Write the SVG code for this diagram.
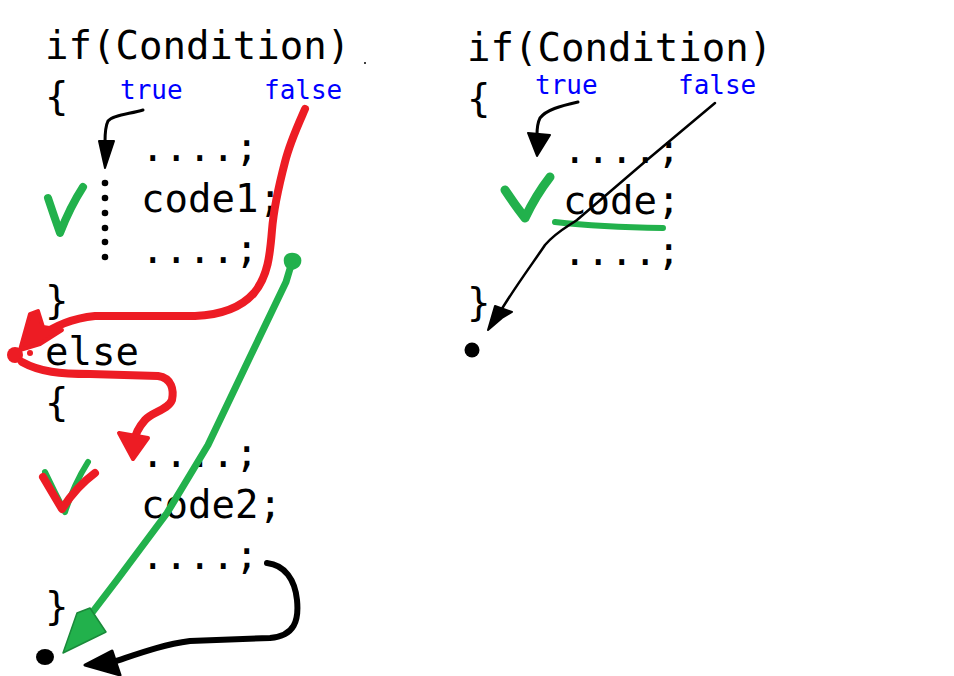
<svg xmlns="http://www.w3.org/2000/svg" width="954" height="676" viewBox="0 0 954 676">
  <style>
    .code { font-family: "DejaVu Sans Mono", "Liberation Mono", monospace; font-size: 39px; fill: #000; }
    .lbl { font-family: "DejaVu Sans Mono", "Liberation Mono", monospace; font-size: 26px; fill: #0000FF; }
    .ink { fill: none; stroke-linecap: round; stroke-linejoin: round; }
    .red { stroke: #ED1C24; stroke-width: 8; }
    .grn { stroke: #22B14C; }
    .blk { stroke: #000; }
  </style>
  <rect width="954" height="676" fill="#fff"/>

  <!-- if / else listing -->
  <g id="left-code" class="code">
    <text x="45" y="59">if(Condition)</text>
    <text x="45" y="110">{</text>
    <text x="141" y="161">....;</text>
    <text x="141" y="212">code1;</text>
    <text x="141" y="263">....;</text>
    <text x="45" y="314">}</text>
    <text x="45" y="365">else</text>
    <text x="45" y="416">{</text>
    <text x="141" y="467">....;</text>
    <text x="141" y="518">code2;</text>
    <text x="141" y="569">....;</text>
    <text x="45" y="620">}</text>
  </g>
  <g id="left-labels" class="lbl">
    <text x="120" y="99">true</text>
    <text x="264" y="99">false</text>
  </g>

  <!-- single if listing -->
  <g id="right-code" class="code">
    <text x="467" y="61">if(Condition)</text>
    <text x="467" y="112">{</text>
    <text x="563" y="163">....;</text>
    <text x="563" y="214">code;</text>
    <text x="563" y="265">....;</text>
    <text x="467" y="316">}</text>
  </g>
  <g id="right-labels" class="lbl">
    <text x="535" y="94">true</text>
    <text x="678" y="94">false</text>
  </g>

  <circle cx="365" cy="63" r="1" fill="#000"/>

  <g id="connectors">
    <!-- left: true path -->
    <g id="left-true">
      <path class="ink blk" stroke-width="3" d="M143,110 C130,114 113,115 108,121 C105,127 105,134 105,142"/>
      <polygon points="99,141 114,141 105,168" fill="#000" stroke="#000" stroke-width="2" stroke-linejoin="round"/>
      <g fill="#000">
        <circle cx="105" cy="183" r="3.3"/>
        <circle cx="105" cy="198" r="3.3"/>
        <circle cx="105" cy="213" r="3.3"/>
        <circle cx="105" cy="228" r="3.3"/>
        <circle cx="105" cy="242" r="3.3"/>
        <circle cx="105" cy="257" r="3.3"/>
      </g>
      <path class="ink grn" stroke-width="8" d="M48,198 Q54,216 60,233 Q70,207 83,187"/>
    </g>

    <!-- left: false path into else -->
    <g id="left-false">
      <path class="ink red" d="M305,109 C298,125 290,142 285,162 C279,185 274,205 272,230 C270,255 268,276 254,293 C240,309 220,315 195,316 L95,316 C75,318 55,325 38,338"/>
      <polygon points="20,350 30,314 38,311 43,327 62,330 40,344" fill="#ED1C24" stroke="#ED1C24" stroke-width="4" stroke-linejoin="round"/>
      <circle cx="15" cy="355" r="8" fill="#ED1C24"/>
      <circle cx="30" cy="353" r="3" fill="#ED1C24"/>
      <path class="ink red" d="M22,362 C40,372 60,374 90,374 L158,376 C172,378 174,390 172,400 C168,410 152,412 145,420 C138,428 135,435 134,442"/>
      <polygon points="119,433 148,438 133,459" fill="#ED1C24" stroke="#ED1C24" stroke-width="4" stroke-linejoin="round"/>
      <path class="ink grn" stroke-width="6" d="M45,472 Q55,493 65,512 Q74,484 88,462"/>
      <path class="ink red" stroke-width="6" d="M43,477 Q53,494 62,509 Q76,487 95,473"/>
    </g>

    <!-- left: exit from the if-block to after the statement -->
    <g id="left-skip">
      <path d="M284,258 C286,251 298,251 301,258 C303,266 296,270 290,270 C285,268 283,263 284,258 Z" fill="#22B14C"/>
      <path class="ink grn" stroke-width="7" d="M292,262 L286,282 L250,357 L208,445 L167,513 L117,580 L88,618"/>
      <polygon points="77,613 90,608 106,632 63,653" fill="#22B14C" stroke="#1a8a3a" stroke-width="1.5" stroke-linejoin="round"/>
    </g>

    <!-- left: exit from the else-block -->
    <g id="left-else-exit">
      <path class="ink blk" stroke-width="6" d="M267,563 C285,565 295,580 297,600 C299,620 295,636 270,638 L190,641 C160,645 135,655 110,663"/>
      <polygon points="85,665 112,651 120,675" fill="#000" stroke="#000" stroke-width="3" stroke-linejoin="round"/>
      <ellipse cx="45" cy="657" rx="9" ry="8" fill="#000"/>
    </g>

    <!-- right: true path -->
    <g id="right-true">
      <path class="ink blk" stroke-width="3" d="M578,102 C560,106 546,110 540,118 C537,124 537,130 537,135"/>
      <polygon points="528,133 550,135 537,156" fill="#000" stroke="#000" stroke-width="2" stroke-linejoin="round"/>
      <path class="ink grn" stroke-width="9" d="M505,190 Q515,205 525,218 Q536,195 550,177"/>
      <path class="ink grn" stroke-width="6" d="M555,222 Q600,227 663,228"/>
    </g>

    <!-- right: false path skipping the block -->
    <g id="right-false">
      <path class="ink blk" stroke-width="2.5" d="M715,103 L647,160 L577,220 C565,228 555,233 545,245 C535,260 520,280 503,307 L492,325"/>
      <polygon points="488,330 495,306 512,312 502,318" fill="#000" stroke="#000" stroke-width="2" stroke-linejoin="round"/>
      <circle cx="472" cy="350" r="7.5" fill="#000"/>
    </g>
  </g>
</svg>
